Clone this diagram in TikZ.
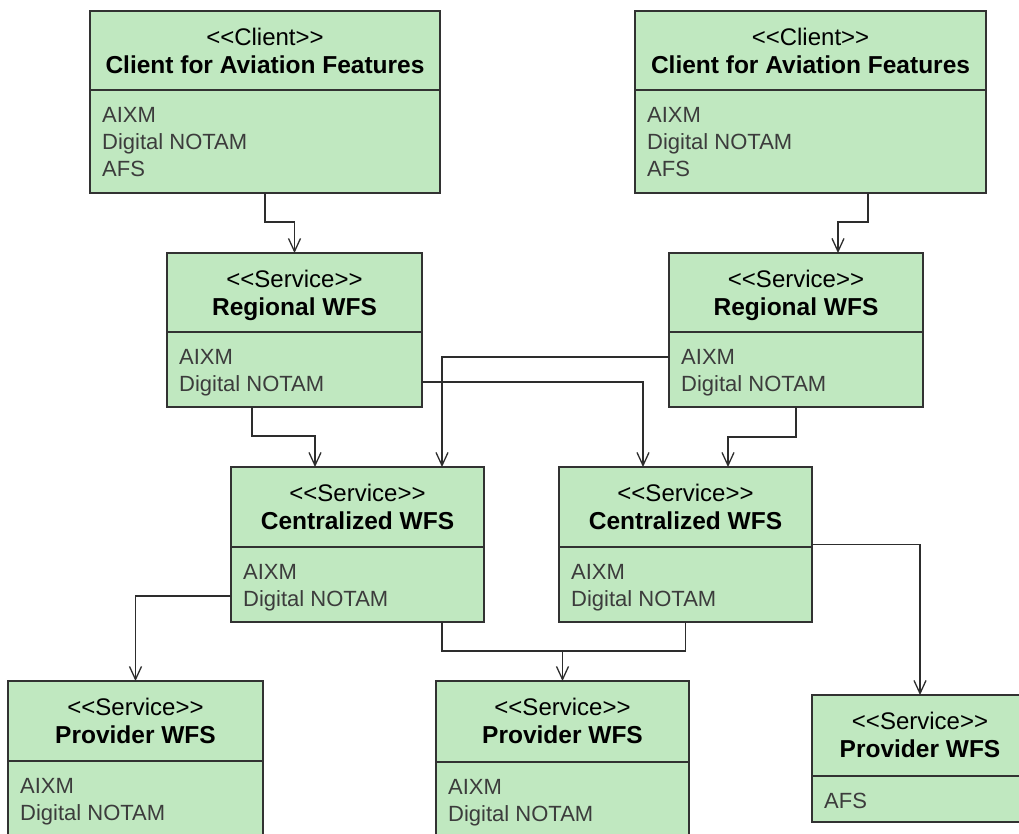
\documentclass[tikz,border=0pt]{standalone}
\usepackage{fontspec}
\setmainfont{Liberation Sans}
\usetikzlibrary{arrows.meta}
\definecolor{boxfill}{RGB}{192,232,192}
\definecolor{boxedgecol}{RGB}{50,50,50}
\definecolor{bodycol}{RGB}{60,60,60}
\definecolor{conncol}{RGB}{45,45,45}
\newcommand{\lgl}{<\kern0pt<}
\newcommand{\rgl}{>\kern0pt>}
\tikzset{
  umlrect/.style={draw=boxedgecol, fill=boxfill, line width=1.6pt, inner sep=0pt, outer sep=0pt, rectangle},
  umldiv/.style={draw=boxedgecol, line width=1.6pt},
  umlstereo/.style={inner sep=0pt, font=\fontsize{24}{28}\selectfont, text=black},
  umltitle/.style={inner sep=0pt, font=\fontsize{24.5}{28}\selectfont\bfseries, text=black},
  umlbody/.style={inner sep=0pt, font=\fontsize{22}{27}\selectfont, text=bodycol},
  conn/.style={draw=conncol, line width=1.3pt, -{Straight Barb[length=13pt,width=12pt]}},
  connplain/.style={draw=conncol, line width=1.3pt},
}
% #1 name, #2 x1, #3 y1, #4 x2, #5 y2, #6 ydiv, #7 stereotype, #8 title, #9 body lines
\newcommand{\umlbox}[9]{%
  \node[umlrect, minimum width={(#4-#2)*1pt}, minimum height={(#5-#3)*1pt}, anchor=north west] (#1) at (#2,#3) {};
  \draw[umldiv] (#2,#6) -- (#4,#6);
  \node[umlstereo, anchor=base] (#1-st) at ({(#2+#4)/2},{#3+34}) {#7};
  \node[umltitle, anchor=base] (#1-ti) at ({(#2+#4)/2},{#3+62}) {#8};
  \foreach \t [count=\i] in {#9} {\node[umlbody, anchor=base west] (#1-b\i) at ({#2+12},{#6+32+27*(\i-1)}) {\t};}
}
\begin{document}
\begin{tikzpicture}[x=1pt,y=-1pt]
\useasboundingbox (0,0) rectangle (1019,833);
\clip (0,0) rectangle (1019,833);
\fill[white] (0,0) rectangle (1019,833);

\umlbox{cl1}{90}{11}{440}{193}{90}{\lgl Client\rgl}{Client for Aviation Features}{AIXM,Digital NOTAM,AFS}
\umlbox{cr1}{635}{11}{986}{193}{90}{\lgl Client\rgl}{Client for Aviation Features}{AIXM,Digital NOTAM,AFS}
\umlbox{rl1}{167}{253}{422}{407}{332}{\lgl Service\rgl}{Regional WFS}{AIXM,Digital NOTAM}
\umlbox{rr1}{669}{253}{923}{407}{332}{\lgl Service\rgl}{Regional WFS}{AIXM,Digital NOTAM}
\umlbox{cl2}{231}{467}{484}{622}{547}{\lgl Service\rgl}{Centralized WFS}{AIXM,Digital NOTAM}
\umlbox{cc2}{559}{467}{812}{622}{547}{\lgl Service\rgl}{Centralized WFS}{AIXM,Digital NOTAM}
\umlbox{pl}{8}{681}{263}{870}{761}{\lgl Service\rgl}{Provider WFS}{AIXM,Digital NOTAM}
\umlbox{pm}{436}{681}{689}{870}{762}{\lgl Service\rgl}{Provider WFS}{AIXM,Digital NOTAM}
\umlbox{pr}{812}{695}{1028}{822}{776}{\lgl Service\rgl}{Provider WFS}{AFS}

% connectors
\draw[conn] (cl1.south) -- ++(0,29) -| (rl1.north);
\draw[conn] ([xshift=57.5pt]cr1.south) -- ++(0,29) -| ([xshift=42pt]rr1.north);
\draw[conn] ([xshift=-42.5pt]rl1.south) -- ++(0,29) -| ([xshift=-42.5pt]cl2.north);
\draw[conn] ([yshift=-27pt]rr1.west) -| ([xshift=84.5pt]cl2.north);
\draw[conn] ([yshift=-52pt]rl1.east) -| ([xshift=-42.5pt]cc2.north);
\draw[conn] (rr1.south) -- ++(0,30) -| ([xshift=42.5pt]cc2.north);
\draw[conn] ([yshift=-51.5pt]cl2.west) -| (pl.north);
\draw[conn] ([xshift=84.5pt]cl2.south) -- ++(0,29) -| (pm.north);
\draw[connplain] (cc2.south) |- ([yshift=30pt]pm.north);
\draw[conn] (cc2.east) -| (pr.north);
\end{tikzpicture}
\end{document}
